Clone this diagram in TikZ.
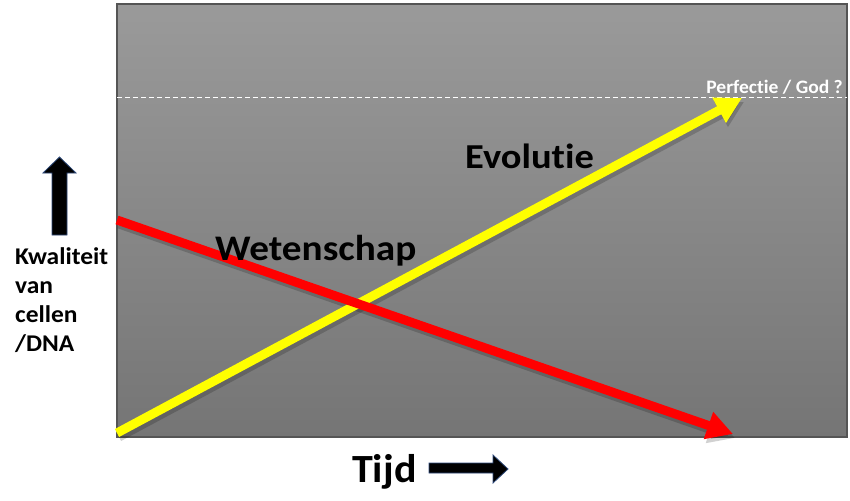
\documentclass[tikz,border=0pt]{standalone}
\usepackage{fontspec}
\setmainfont[Ligatures=CommonOff]{Carlito}
\usetikzlibrary{arrows.meta}
\definecolor{bgtop}{HTML}{9A9A9A}
\definecolor{bgbot}{HTML}{757575}
\definecolor{frame}{HTML}{555555}
\definecolor{yel}{HTML}{FFFF00}
\definecolor{redc}{HTML}{FF0000}
\definecolor{outl}{HTML}{2F4B7C}
\tikzset{
  lbl/.style={inner sep=0pt, anchor=base west, font=\bfseries},
  bigarrow/.style={line width=9pt, -{Triangle[length=26pt,width=27pt]}},
  shadowarrow/.style={line width=9pt, -{Triangle[length=26pt,width=27pt]}, draw=black, opacity=0.18},
  blockarrow/.style={fill=black, draw=outl, line width=0.8pt},
}
\begin{document}
\begin{tikzpicture}[x=1pt,y=-1pt]
\useasboundingbox (0,0) rectangle (850,500);
% panel
\shade[top color=bgtop, bottom color=bgbot] (117,4) rectangle (847,437);
\draw[frame, line width=1.5pt] (117,4) rectangle (847,437);
% dashed line
\coordinate (dl) at (117,97);
\coordinate (dr) at (847,97);
\draw[white, dashed, line width=0.9pt, dash pattern=on 5pt off 3pt] (dl) -- (dr);
\node[lbl, anchor=base east, text=white, font=\bfseries\fontsize{19}{22}\selectfont] (perf) at (843,94) {\scalebox{1.03}[1]{Perfectie / God ?}};
% arrows
\coordinate (ys) at (117,433);
\coordinate (ye) at (742,98);
\coordinate (rs) at (117,220);
\coordinate (re) at (733,434);
\draw[shadowarrow] ([shift={(2,4)}]ys) -- ([shift={(2,4)}]ye);
\draw[shadowarrow] ([shift={(2,4)}]rs) -- ([shift={(2,4)}]re);
\draw[bigarrow, yel] (ys) -- (ye);
\draw[bigarrow, redc] (rs) -- (re);
% labels
\node[lbl, font=\bfseries\fontsize{35}{40}\selectfont] (evo) at (465,168) {\scalebox{1.1}[1]{Evolutie}};
\node[lbl, font=\bfseries\fontsize{36}{42}\selectfont] (wet) at (215,260) {\scalebox{1.09}[1]{Wetenschap}};
% left axis
\draw[blockarrow] (52,235) -- (52,173) -- (43,173) -- (59.5,157) -- (76,173) -- (67,173) -- (67,235) -- cycle;
\node[lbl, font=\bfseries\fontsize{24}{29}\selectfont, align=left, anchor=north west] (kw) at (15,247) {\scalebox{1.06}[1]{Kwaliteit}\\\scalebox{1.06}[1]{van}\\\scalebox{1.06}[1]{cellen}\\\scalebox{1.06}[1]{/DNA}};
% bottom axis
\node[lbl, font=\bfseries\fontsize{40}{46}\selectfont] (tijd) at (352,482) {\scalebox{1.05}[1]{Tijd}};
\draw[blockarrow] (429,463) -- (493,463) -- (493,455) -- (508,469) -- (493,483) -- (493,473) -- (429,473) -- cycle;
\end{tikzpicture}
\end{document}
